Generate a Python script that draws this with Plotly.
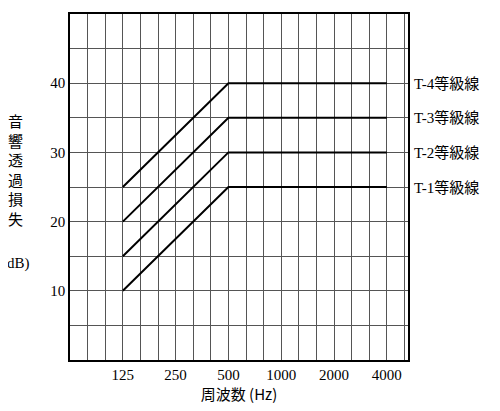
import plotly.graph_objects as go
import numpy as np

freqs = [125, 500, 4000]
series = {
    "T-1等級線": [10, 25, 25],
    "T-2等級線": [15, 30, 30],
    "T-3等級線": [20, 35, 35],
    "T-4等級線": [25, 40, 40],
}
octave_labels = [125, 250, 500, 1000, 2000, 4000]

fig = go.Figure()
for name, vals in series.items():
    fig.add_trace(go.Scatter(x=freqs, y=vals, mode="lines", line=dict(color="black", width=2), showlegend=False))
    fig.add_annotation(x=1.0, xref="paper", y=vals[-1], yref="y", xanchor="left", xshift=4,
                       text=name, showarrow=False, font=dict(size=15, color="black", family="Liberation Serif, Noto Sans CJK JP"))

third = [62.5 * 2 ** (i / 3) for i in range(0, 20)]
ticktext = []
for f in third:
    m = [str(o) for o in octave_labels if abs(f - o) < 1]
    ticktext.append(m[0] if m else "")

fig.update_layout(
    width=500, height=411, margin=dict(l=62, r=100, t=4, b=59),
    paper_bgcolor="white", plot_bgcolor="white",
    font=dict(family="Liberation Serif", size=15, color="black"),
)
fig.update_xaxes(type="log", range=[np.log10(62.5), np.log10(5280)], tickvals=third, ticktext=ticktext,
                 showgrid=True, gridcolor="#555", gridwidth=1, ticks="", showline=True, linecolor="black",
                 mirror=True, linewidth=1.5, zeroline=False,
                 title=dict(text="周波数 (Hz)", font=dict(family="Noto Sans CJK JP", size=15), standoff=4))
fig.update_yaxes(range=[0, 50], tickvals=list(range(0, 51, 5)),
                 ticktext=[str(v) if v % 10 == 0 and v > 0 else "" for v in range(0, 51, 5)],
                 showgrid=True, gridcolor="#555", gridwidth=1, ticks="", showline=True, linecolor="black",
                 mirror=True, linewidth=1.5, zeroline=False)
fig.add_annotation(x=-0.16, xref="paper", y=0.55, yref="paper", text="<br>".join("音響透過損失"),
                   showarrow=False, font=dict(family="Noto Sans CJK JP", size=15), xanchor="center", yanchor="middle")
fig.add_annotation(x=-0.16, xref="paper", y=0.28, yref="paper", text="(dB)", showarrow=False,
                   font=dict(size=15), xanchor="center", yanchor="middle")
fig.write_html("out.html")
